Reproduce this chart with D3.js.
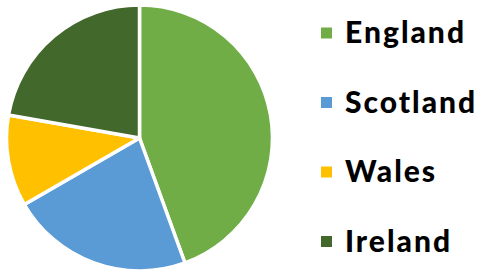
<!DOCTYPE html>
<html>
<head>
<meta charset="utf-8">
<script src="https://cdn.jsdelivr.net/npm/d3@7"></script>
<style>
  body { margin: 0; background: #fff; }
  text { font-family: "Century Gothic", Lato, "DejaVu Sans", sans-serif; font-weight: 900; }
</style>
</head>
<body>
<div id="chart"></div>
<script>
// Chart data
const countries = ["England", "Scotland", "Wales", "Ireland"];
const shares = [4, 2, 1, 2];
const colours = ["#70AD47", "#5B9BD5", "#FFC000", "#43682B"];

const width = 481;
const height = 271;

const svg = d3.select("#chart")
  .append("svg")
  .attr("width", width)
  .attr("height", height);

const data = countries.map((c, i) => ({ name: c, value: shares[i] }));

const colour = d3.scaleOrdinal().domain(countries).range(colours);

// Pie
const pie = d3.pie().value(d => d.value).sort(null);
const arc = d3.arc().innerRadius(0).outerRadius(133);

svg.append("g")
  .attr("transform", "translate(139.5,138)")
  .selectAll("path")
  .data(pie(data))
  .enter().append("path")
  .attr("d", arc)
  .attr("fill", d => colour(d.data.name))
  .attr("stroke", "#fff")
  .attr("stroke-width", 3.5)
  .attr("stroke-linejoin", "round");

// Legend
const legendY = d3.scalePoint().domain(countries).range([33, 241.5]);

const legend = svg.append("g")
  .selectAll("g")
  .data(countries)
  .enter().append("g")
  .attr("transform", d => `translate(321,${legendY(d)})`);

legend.append("rect")
  .attr("x", 0)
  .attr("y", -5.5)
  .attr("width", 11)
  .attr("height", 11)
  .attr("fill", d => colour(d));

legend.append("text")
  .attr("x", 24)
  .attr("y", 10)
  .attr("font-size", 30)
  .attr("letter-spacing", 2)
  .attr("fill", "#000")
  .text(d => d);
</script>
</body>
</html>
